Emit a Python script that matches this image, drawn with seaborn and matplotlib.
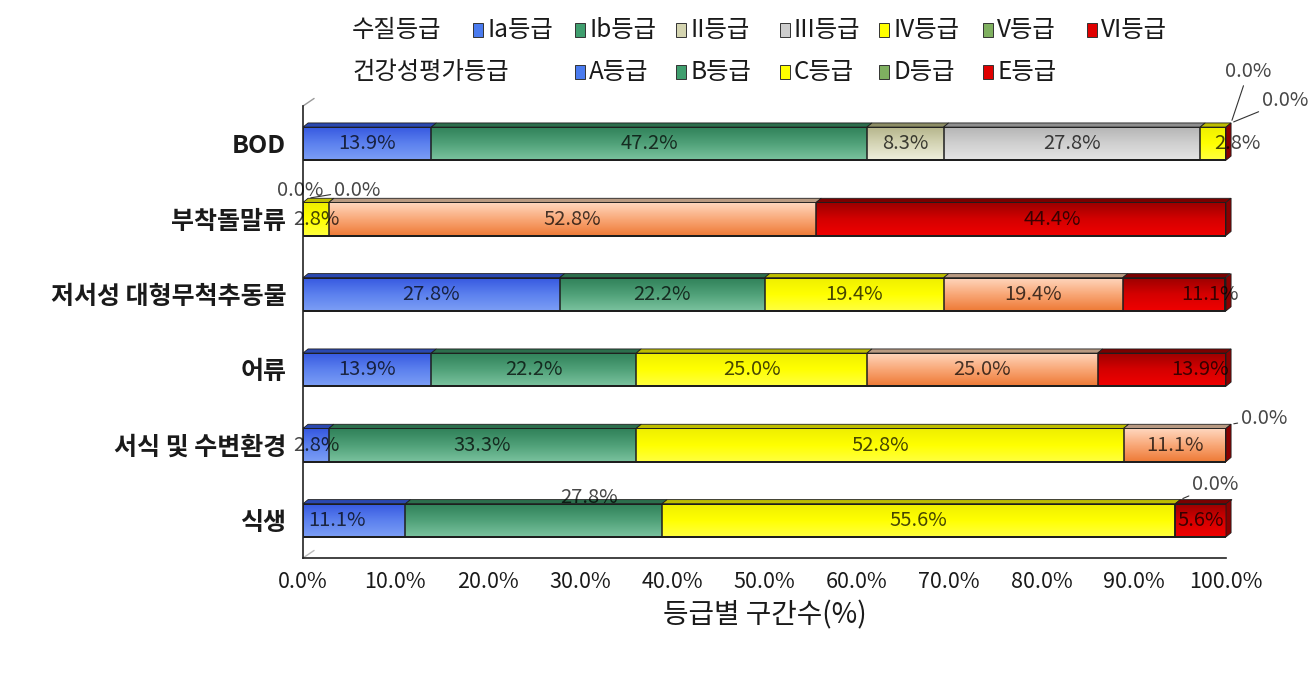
import numpy as np
import pandas as pd
import matplotlib
matplotlib.use("Agg")
import matplotlib.pyplot as plt
import seaborn as sns
from matplotlib.colors import LinearSegmentedColormap
from matplotlib.patches import Polygon, Rectangle

# ---- data ----
categories = ["BOD", "부착돌말류", "저서성 대형무척추동물", "어류", "서식 및 수변환경", "식생"]
bod_grades = ["Ia등급", "Ib등급", "II등급", "III등급", "IV등급", "V등급", "VI등급"]
health_grades = ["A등급", "B등급", "C등급", "D등급", "E등급"]

bod_values = [13.9, 47.2, 8.3, 27.8, 2.8, 0.0, 0.0]
diatom_values = [0.0, 0.0, 2.8, 52.8, 44.4]
benthic_values = [27.8, 22.2, 19.4, 19.4, 11.1]
fish_values = [13.9, 22.2, 25.0, 25.0, 13.9]
habitat_values = [2.8, 33.3, 52.8, 11.1, 0.0]
vegetation_values = [11.1, 27.8, 55.6, 0.0, 5.6]

x_ticks = [0, 10, 20, 30, 40, 50, 60, 70, 80, 90, 100]

rows = [
    (bod_values, bod_grades),
    (diatom_values, health_grades),
    (benthic_values, health_grades),
    (fish_values, health_grades),
    (habitat_values, health_grades),
    (vegetation_values, health_grades),
]

# ---- styles ----
blue = ["#3557e0", "#5b80ee", "#7c9ef5"]
green = ["#2f8058", "#4fa078", "#7ac29e"]
yellow = ["#eeee00", "#ffff00", "#ffff40"]
orange = ["#ffd8c0", "#f9a878", "#ee7a36"]
red = ["#9a0000", "#d40000", "#f00000"]
fill_colors = {
    "Ia등급": blue, "Ib등급": green,
    "II등급": ["#b4b48a", "#d4d4b4", "#eeeedc"],
    "III등급": ["#b4b4b4", "#cfcfcf", "#e4e4e4"],
    "IV등급": yellow, "V등급": ["#6f9f50", "#8ab563", "#a6cc88"], "VI등급": red,
    "A등급": blue, "B등급": green, "C등급": yellow, "D등급": orange, "E등급": red,
}
top_colors = {
    "Ia등급": "#2a48b0", "Ib등급": "#2c6e4c", "II등급": "#8c8c64", "III등급": "#8e8e8e",
    "IV등급": "#bdbd00", "V등급": "#5a8040", "VI등급": "#7a0000",
    "A등급": "#2a48b0", "B등급": "#2c6e4c", "C등급": "#bdbd00", "D등급": "#b89a82", "E등급": "#7a0000",
}
legend_colors = {
    "Ia등급": "#4a7bef", "Ib등급": "#3f9e6e", "II등급": "#d4d4b0", "III등급": "#cccccc",
    "IV등급": "#ffff00", "V등급": "#7fb060", "VI등급": "#e00000",
    "A등급": "#4a7bef", "B등급": "#3f9e6e", "C등급": "#ffff00", "D등급": "#7fb060", "E등급": "#e00000",
}

# special label placements (row, segment) -> (dx px, dy px, leader line, anchor)
label_tweaks = {
    (0, 4): (24, 0, False, "center"),
    (0, 5): (17, 51, True, "top_end"),
    (0, 6): (54, 22, True, "top_end"),
    (1, 0): (-8, 8, False, "top_start"),
    (1, 1): (49, 8, True, "top_start"),
    (1, 4): (31, 0, False, "center"),
    (2, 4): (36, 0, False, "center"),
    (3, 4): (38, 0, False, "center"),
    (4, 4): (33, 6, True, "top_end"),
    (5, 0): (-17, 0, False, "center"),
    (5, 1): (55, 23, False, "center"),
    (5, 3): (35, 15, True, "top_start"),
}

bar_h = 0.44
depth_x = 0.55
depth_y = 0.055

sns.set_style("white")
plt.rcParams["font.family"] = ["Noto Sans CJK KR", "DejaVu Sans"]
text_color = "#1a1a1a"

fig = plt.figure(figsize=(13.15, 6.75), dpi=100)
ax = fig.add_axes([303 / 1315, 1 - 558 / 675, 923 / 1315, 452 / 675])

# cumulative layers, drawn as outlines by seaborn and overlaid on each other
long_rows = []
for cat, (vals, grades) in zip(categories, rows):
    cum = np.cumsum(vals)
    for k in range(7):
        long_rows.append({"category": cat, "layer": k, "cum": cum[min(k, len(cum) - 1)]})
long_df = pd.DataFrame(long_rows)

sns.barplot(data=long_df, x="cum", y="category", hue="layer", order=categories,
            dodge=False, fill=False, width=bar_h, errorbar=None, legend=False, ax=ax)
for p in ax.patches:
    p.set_edgecolor("#1e1e1e")
    p.set_linewidth(1.1)
    p.set_zorder(2)

grad = np.linspace(0, 1, 64).reshape(-1, 1)
for i, (vals, grades) in enumerate(rows):
    left = 0.0
    y_top = i - bar_h / 2
    y_bot = i + bar_h / 2
    for k, (v, g) in enumerate(zip(vals, grades)):
        x0, x1 = left, left + v
        if v > 0:
            cmap = LinearSegmentedColormap.from_list(g, fill_colors[g])
            ax.imshow(grad, extent=(x0, x1, y_bot, y_top), origin="upper", aspect="auto",
                      cmap=cmap, zorder=1, interpolation="bilinear")
            top = Polygon([(x0, y_top), (x1, y_top), (x1 + depth_x, y_top - depth_y),
                           (x0 + depth_x, y_top - depth_y)], closed=True,
                          facecolor=top_colors[g], edgecolor="#1e1e1e", linewidth=0.6,
                          zorder=2.5, clip_on=False)
            ax.add_patch(top)

        dx, dy, leader, anchor = label_tweaks.get((i, k), (0, 0, False, "center"))
        if anchor == "center":
            xy = ((x0 + x1) / 2, i)
        elif anchor == "top_end":
            xy = (x1 + depth_x, y_top - depth_y)
        else:
            xy = (x0 + depth_x, y_top - depth_y)
        arrow = dict(arrowstyle="-", color="#333333", lw=0.8, shrinkA=0, shrinkB=2) if leader else None
        ax.annotate(f"{v:.1f}%", xy=xy, xytext=(dx, dy), textcoords="offset pixels",
                    ha="center", va="center", fontsize=14.5, color="black", alpha=0.72,
                    arrowprops=arrow, zorder=3, annotation_clip=False)
        left = x1
    # side face at the far end of the bar
    side = Polygon([(100, y_top), (100 + depth_x, y_top - depth_y),
                    (100 + depth_x, y_bot - depth_y), (100, y_bot)], closed=True,
                   facecolor="#8a0000", edgecolor="#1e1e1e", linewidth=0.6,
                   zorder=2.5, clip_on=False)
    ax.add_patch(side)

ax.set_xlim(0, 100)
ax.set_ylim(len(categories) - 0.5, -0.5)
ax.set_xticks(x_ticks)
ax.set_xticklabels([f"{t:.1f}%" for t in x_ticks], fontsize=15.5, color=text_color)
ax.set_yticks(range(len(categories)))
ax.set_yticklabels(categories, fontsize=18, fontweight="bold", color=text_color)
ax.set_yticks(np.arange(-0.5, len(categories), 1.0), minor=True)
ax.tick_params(axis="y", which="major", length=0, pad=12)
ax.tick_params(axis="y", which="minor", direction="in", length=7, width=1, color="#222222")
ax.tick_params(axis="x", direction="in", length=7, width=1, color="#222222", pad=9)
ax.set_ylabel("")
ax.set_xlabel("등급별 구간수(%)", fontsize=20, color=text_color, labelpad=6)
for s in ["top", "right"]:
    ax.spines[s].set_visible(False)
for s in ["left", "bottom"]:
    ax.spines[s].set_color("#222222")
    ax.spines[s].set_linewidth(1.2)

# 3D wall edges
ax.plot([0, 1.2], [-0.5, -0.6], color="#999999", lw=1, clip_on=False)
ax.plot([0, 1.2], [5.5, 5.4], color="#bbbbbb", lw=1, clip_on=False)

# ---- legend (two rows drawn by hand, as in the original) ----
def px(x, y):
    return x / 1315, 1 - y / 675

legend_rows = [
    ("수질등급", 30, bod_grades, [478, 580, 681, 785, 884, 988, 1092]),
    ("건강성평가등급", 72, health_grades, [580, 681, 785, 884, 988]),
]
for title, y, grades, xs in legend_rows:
    fig.text(*px(352, y), title, fontsize=17.5, color=text_color, ha="left", va="center")
    for g, x in zip(grades, xs):
        sx, sy = px(x - 5, y + 7)
        fig.patches.append(Rectangle((sx, sy), 10 / 1315, 14 / 675, transform=fig.transFigure,
                                     facecolor=legend_colors[g], edgecolor="#333333", linewidth=0.7))
        fig.text(*px(x + 9, y), g, fontsize=17.5, color=text_color, ha="left", va="center")

fig.savefig("out.png", dpi=100)
